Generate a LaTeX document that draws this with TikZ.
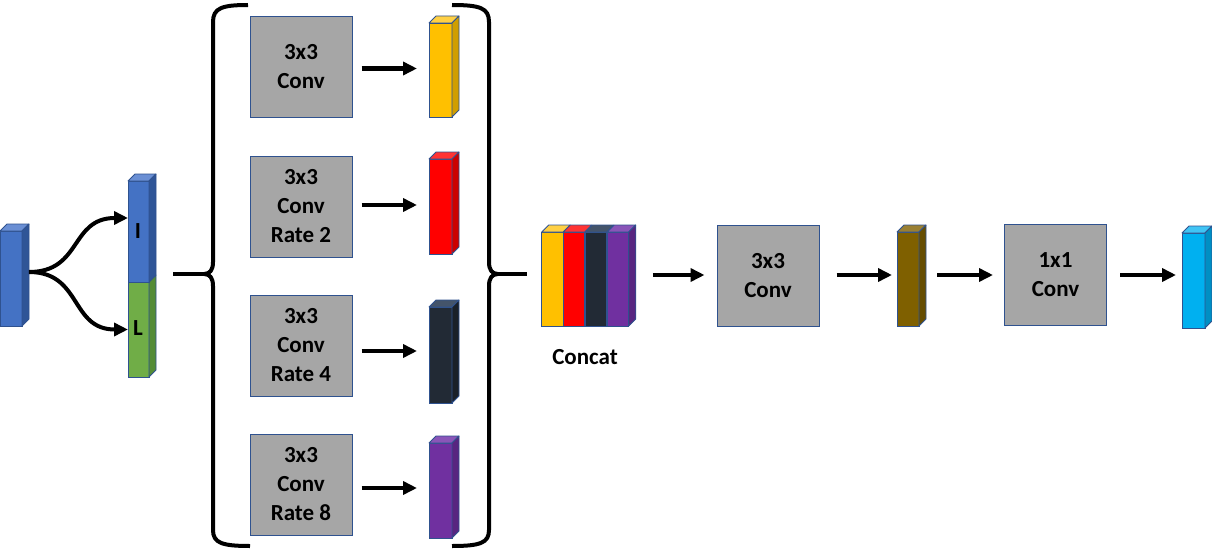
\documentclass[tikz,border=0pt]{standalone}
\usepackage{fontspec}
\setmainfont{Carlito}
\usetikzlibrary{arrows.meta}
\definecolor{edgeblue}{HTML}{2F528F}
\definecolor{convgray}{HTML}{A6A6A6}
\definecolor{bluF}{HTML}{4472C4}\definecolor{bluS}{HTML}{2F5597}\definecolor{bluT}{HTML}{6A8FD4}
\definecolor{grnF}{HTML}{70AD47}\definecolor{grnS}{HTML}{548C35}\definecolor{grnT}{HTML}{8CC068}
\definecolor{yelF}{HTML}{FFC000}\definecolor{yelS}{HTML}{D09E00}\definecolor{yelT}{HTML}{FFD044}
\definecolor{redF}{HTML}{FF0000}\definecolor{redS}{HTML}{CC0000}\definecolor{redT}{HTML}{FF3333}
\definecolor{drkF}{HTML}{222A35}\definecolor{drkS}{HTML}{1A2028}\definecolor{drkT}{HTML}{44546A}
\definecolor{purF}{HTML}{7030A0}\definecolor{purS}{HTML}{582580}\definecolor{purT}{HTML}{8A55B8}
\definecolor{brnF}{HTML}{7F6000}\definecolor{brnS}{HTML}{664D00}\definecolor{brnT}{HTML}{9A8033}
\definecolor{cynF}{HTML}{00B0F0}\definecolor{cynS}{HTML}{008FC4}\definecolor{cynT}{HTML}{40C4F4}
\newcommand{\lblfont}{\fontsize{23}{29}\selectfont\bfseries}
\newcommand{\ftop}[2]{\filldraw[fill=#2T, fmedge] (#1.north west) -- ++(7,-7) -- ([shift={(7,-7)}]#1.north east) -- (#1.north east) -- cycle;}
\newcommand{\fside}[2]{\filldraw[fill=#2S, fmedge] (#1.north east) -- ++(7,-7) -- ([shift={(7,-7)}]#1.south east) -- (#1.south east) -- cycle;}
\newcommand{\fcube}[5]{%
  \node[fmap, fill=#5F, minimum width=#3pt, minimum height=#4pt] (#1) at #2 {};
  \ftop{#1}{#5}\fside{#1}{#5}}
\begin{document}
\begin{tikzpicture}[x=1pt,y=-1pt,
  fmap/.style={draw=edgeblue, line width=0.8pt, inner sep=0pt, outer sep=0pt},
  fmedge/.style={draw=edgeblue, line width=0.8pt, line join=round},
  convbox/.style={draw=edgeblue, fill=convgray, line width=1pt, minimum width=102pt, minimum height=101pt, inner sep=0pt, align=center, font=\lblfont},
  lbl/.style={font=\lblfont, inner sep=0pt},
  arr/.style={line width=4pt, -{Triangle[length=14pt,width=13pt]}},
  brace/.style={line width=4pt, line cap=butt, line join=round}]
\useasboundingbox (0,0) rectangle (1212,551);

% input block
\fcube{inp}{(11,278.5)}{22}{95}{blu}
% I / L block
\node[fmap, fill=grnF, minimum width=21pt, minimum height=95pt] (L) at (138.5,329.5) {};
\fside{L}{grn}
\node[fmap, fill=bluF, minimum width=21pt, minimum height=101pt] (I) at (138.5,231.5) {};
\ftop{I}{blu}\fside{I}{blu}
\node[lbl] (Ilbl) at (138,231) {I};
\node[lbl] (Llbl) at (138,328) {L};
\coordinate (split) at (29,272);
\draw[arr] (split) .. controls (82,272) and (70,218) .. ([yshift=13.5pt]I.west);
\draw[arr] (split) .. controls (82,272) and (70,329.5) .. (L.west);

% braces
\coordinate (lstub) at (173,274);
\coordinate (ltip) at (204,274);
\draw[brace] (248,5) .. controls (222,5) and (213,8) .. (213,22) -- (213,262) .. controls (213,270) and (210,274) .. (ltip)
  .. controls (210,274) and (213,278) .. (213,286) -- (213,530) .. controls (213,543) and (222,546) .. (250,546);
\draw[line width=4pt] (lstub) -- (ltip);
\coordinate (rtip) at (498,274);
\coordinate (rstub) at (527,274);
\draw[brace] (452,5) .. controls (480,5) and (489,8) .. (489,22) -- (489,262) .. controls (489,270) and (492,274) .. (rtip)
  .. controls (492,274) and (489,278) .. (489,286) -- (489,530) .. controls (489,543) and (480,546) .. (452,546);
\draw[line width=4pt] (rtip) -- (rstub);

% conv branches
\node[convbox] (c1) at (301,67) {3x3\\Conv};
\node[convbox] (c2) at (301,206.5) {3x3\\Conv\\Rate 2};
\node[convbox] (c3) at (301,345.5) {3x3\\Conv\\Rate 4};
\node[convbox] (c4) at (301,484.5) {3x3\\Conv\\Rate 8};
\fcube{f1}{(440.5,70)}{23}{94}{yel}
\fcube{f2}{(440.5,206.5)}{23}{95}{red}
\fcube{f3}{(440.5,355)}{23}{96}{drk}
\fcube{f4}{(440.5,490.5)}{23}{95}{pur}
\draw[arr] ([xshift=9pt,yshift=-1.5pt]c1.east) -- ([xshift=-12pt,yshift=-1.5pt]f1.west |- c1.east);
\draw[arr] ([xshift=9pt,yshift=1.5pt]c2.east) -- ([xshift=-12pt,yshift=1.5pt]f2.west |- c2.east);
\draw[arr] ([xshift=9pt,yshift=-5.5pt]c3.east) -- ([xshift=-12pt,yshift=-5.5pt]f3.west |- c3.east);
\draw[arr] ([xshift=9pt,yshift=-3.5pt]c4.east) -- ([xshift=-12pt,yshift=-3.5pt]f4.west |- c4.east);

% concat
\node[fmap, fill=yelF, minimum width=21.5pt, minimum height=94pt] (p1) at (552.5,279) {};
\node[fmap, fill=redF, minimum width=21.5pt, minimum height=94pt] (p2) at (574,279) {};
\node[fmap, fill=drkF, minimum width=21.5pt, minimum height=94pt] (p3) at (596,279) {};
\node[fmap, fill=purF, minimum width=21.5pt, minimum height=94pt] (p4) at (618,279) {};
\ftop{p1}{yel}\ftop{p2}{red}\ftop{p3}{drk}\ftop{p4}{pur}\fside{p4}{pur}
\node[lbl] (concat) at (585,357) {Concat};

% right part
\node[convbox] (cv) at (768,275.5) {3x3\\Conv};
\fcube{brn}{(908,279)}{22}{94}{brn}
\node[convbox] (c11) at (1055.5,275) {1x1\\Conv};
\fcube{cyn}{(1193.5,280.5)}{23}{95}{cyn}
\draw[arr] ([xshift=24pt,yshift=4pt]p4.east) -- ([xshift=-12pt,yshift=0.5pt]cv.west);
\draw[arr] ([xshift=17pt,yshift=0.5pt]cv.east) -- ([xshift=-5pt,yshift=4pt]brn.west);
\draw[arr] ([xshift=18pt,yshift=4pt]brn.east) -- ([xshift=-11pt]c11.west);
\draw[arr] ([xshift=13pt]c11.east) -- ([xshift=-6pt,yshift=5.5pt]cyn.west);
\end{tikzpicture}
\end{document}
